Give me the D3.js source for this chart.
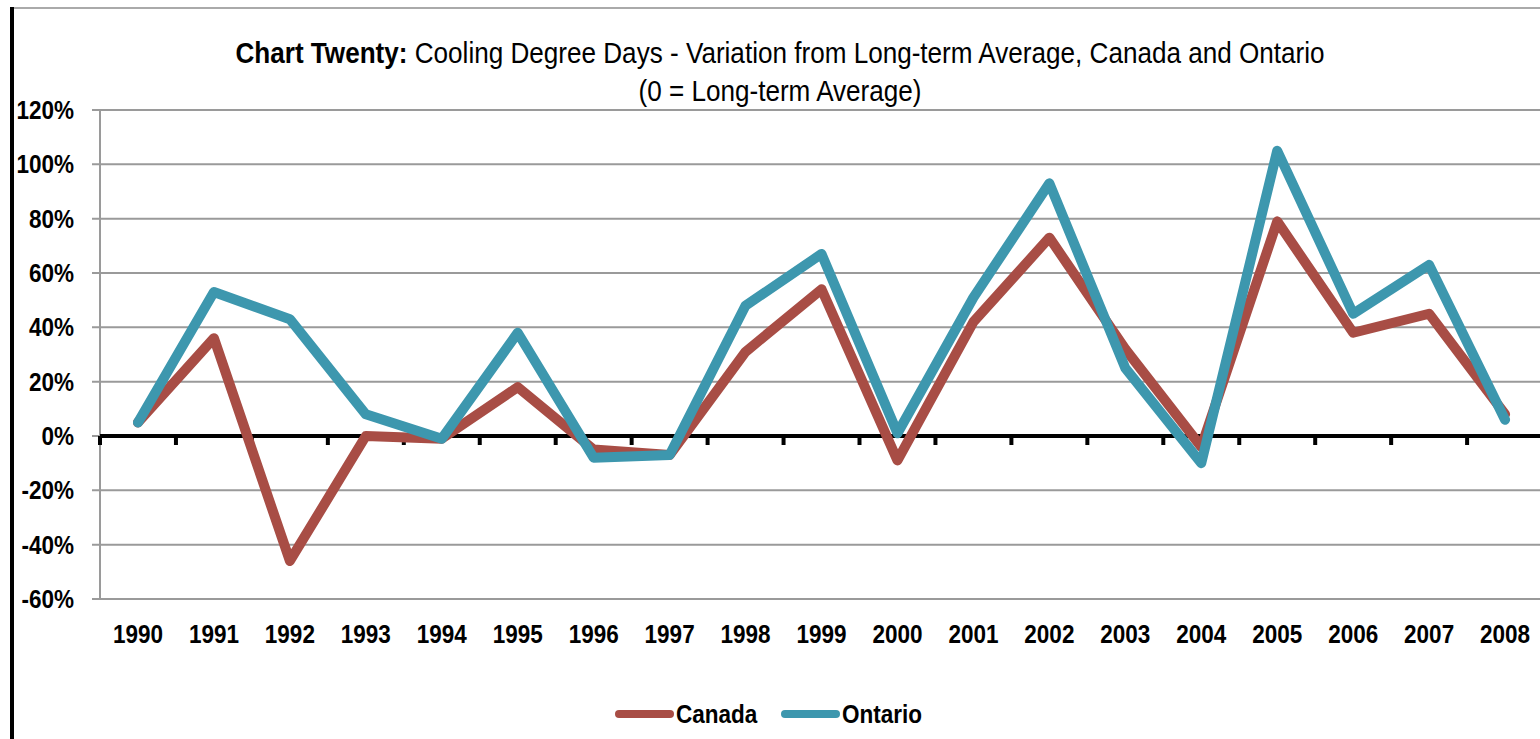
<!DOCTYPE html>
<html>
<head>
<meta charset="utf-8">
<script src="https://cdn.jsdelivr.net/npm/d3@7"></script>
<style>
  body { margin: 0; background: #fff; overflow: hidden; }
  svg text { font-family: "Liberation Sans Narrow", "Arial Narrow", "Liberation Sans", Arial, sans-serif; }
</style>
</head>
<body>
<div id="chart"></div>
<script>
var years = ["1990","1991","1992","1993","1994","1995","1996","1997","1998","1999",
             "2000","2001","2002","2003","2004","2005","2006","2007","2008"];
var canada  = [5, 36, -46, 0, -1, 18, -5, -7, 31, 54, -9, 42, 73, 32, -4, 79, 38, 45, 8];
var ontario = [5, 53, 43, 8, -1, 38, -8, -7, 48, 67, 1, 51, 93, 25, -10, 105, 45, 63, 6];
var yTicks = [-60, -40, -20, 0, 20, 40, 60, 80, 100, 120];
var seriesNames = ["Canada", "Ontario"];
var seriesColors = ["#a84d45", "#3d97ae"];

var width = 1540, height = 739;
var plotLeft = 100, plotTop = 110, plotBottom = 599;
var bandW = 75.95;
var squeeze = 0.9; // no narrow font installed, so squeeze text a bit

var svg = d3.select("#chart").append("svg")
  .attr("width", width)
  .attr("height", height);

// narrow-ish text helper
function label(g, tx, ty, anchor, size, weight){
  return g.append("text")
    .attr("transform", "translate(" + tx + "," + ty + ") scale(" + squeeze + ",1)")
    .attr("text-anchor", anchor)
    .style("font-size", size + "px")
    .style("font-weight", weight);
}

// frame
svg.append("line")
  .attr("x1", 12).attr("x2", width)
  .attr("y1", 8).attr("y2", 8)
  .attr("stroke", "#aaa").attr("stroke-width", 2);
svg.append("line")
  .attr("x1", 12).attr("x2", 12)
  .attr("y1", 7).attr("y2", height)
  .attr("stroke", "#000").attr("stroke-width", 4);

// title
var title = label(svg, 780, 63, "middle", 29, "normal");
title.append("tspan").style("font-weight", "bold").text("Chart Twenty:");
title.append("tspan").text(" Cooling Degree Days - Variation from Long-term Average, Canada and Ontario");
label(svg, 780, 101, "middle", 29, "normal").text("(0 = Long-term Average)");

var x = d3.scaleBand()
  .domain(years)
  .range([plotLeft, plotLeft + bandW * years.length]);

var y = d3.scaleLinear()
  .domain([-60, 120])
  .range([plotBottom, plotTop]);

// gridlines
svg.append("g")
  .selectAll("line")
  .data(yTicks)
  .enter().append("line")
  .attr("x1", plotLeft - 8)
  .attr("x2", width)
  .attr("y1", function(d){ return y(d); })
  .attr("y2", function(d){ return y(d); })
  .attr("stroke", "#9a9a9a")
  .attr("stroke-width", 2);

// y axis line
svg.append("line")
  .attr("x1", plotLeft).attr("x2", plotLeft)
  .attr("y1", plotTop).attr("y2", plotBottom)
  .attr("stroke", "#9a9a9a")
  .attr("stroke-width", 2);

// y labels
var yLab = svg.append("g");
yTicks.forEach(function(d){
  label(yLab, 74, y(d) + 9, "end", 25, "bold").text(d + "%");
});

// zero axis with ticks
svg.append("line")
  .attr("x1", plotLeft).attr("x2", width)
  .attr("y1", y(0)).attr("y2", y(0))
  .attr("stroke", "#000")
  .attr("stroke-width", 4);
svg.append("g")
  .selectAll("line")
  .data(years)
  .enter().append("line")
  .attr("x1", function(d){ return x(d); })
  .attr("x2", function(d){ return x(d); })
  .attr("y1", y(0))
  .attr("y2", y(0) + 9)
  .attr("stroke", "#000")
  .attr("stroke-width", 4);

// x labels
var xLab = svg.append("g");
years.forEach(function(d){
  label(xLab, x(d) + x.bandwidth() / 2, 643, "middle", 25, "bold").text(d);
});

// lines
var line = d3.line()
  .x(function(d, i){ return x(years[i]) + x.bandwidth() / 2; })
  .y(function(d){ return y(d); });

[canada, ontario].forEach(function(s, i){
  svg.append("path")
    .datum(s)
    .attr("d", line)
    .attr("fill", "none")
    .attr("stroke", seriesColors[i])
    .attr("stroke-width", 10)
    .attr("stroke-linejoin", "round")
    .attr("stroke-linecap", "round");
});

// legend
var legendX = [619, 785];
seriesNames.forEach(function(n, i){
  svg.append("line")
    .attr("x1", legendX[i]).attr("x2", legendX[i] + 51)
    .attr("y1", 714).attr("y2", 714)
    .attr("stroke", seriesColors[i])
    .attr("stroke-width", 8)
    .attr("stroke-linecap", "round");
  label(svg, legendX[i] + 57, 723, "start", 25, "bold").text(n);
});
</script>
</body>
</html>
